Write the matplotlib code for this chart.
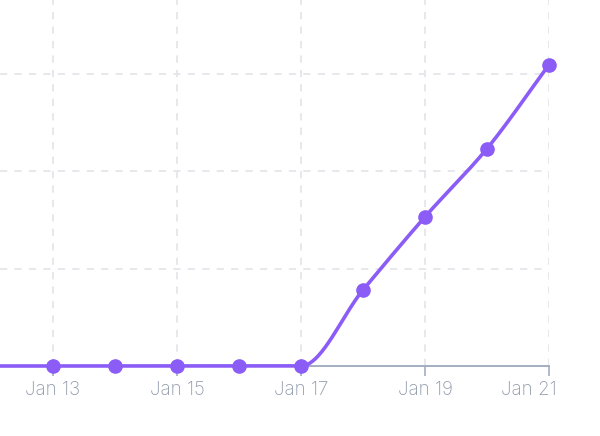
import numpy as np
import matplotlib.pyplot as plt
from matplotlib.transforms import ScaledTranslation

# Data (y axis has no labels; gridlines taken as 100 apart)
days = [12, 13, 14, 15, 16, 17, 18, 19, 20, 21]
values = [0, 0, 0, 0, 0, 0, 78, 153, 223, 309]
tick_days = [13, 15, 17, 19, 21]
tick_labels = ["Jan 13", "Jan 15", "Jan 17", "Jan 19", "Jan 21"]
y_grid = [100, 200, 300]

purple = "#8b5cf6"
axis_grey = "#a3aec2"
label_grey = "#929cad"
grid_grey = "#e4e6eb"


def monotone(x, y, n=40):
    # Fritsch-Carlson monotone cubic, just to draw a smooth line through the points
    x = np.asarray(x, float)
    y = np.asarray(y, float)
    h = np.diff(x)
    d = np.diff(y) / h
    m = np.zeros_like(y)
    m[0], m[-1] = d[0], d[-1]
    for i in range(1, len(y) - 1):
        if d[i - 1] * d[i] > 0:
            m[i] = 2 / (1 / d[i - 1] + 1 / d[i])
    xs, ys = [], []
    for i in range(len(h)):
        t = np.linspace(0, 1, n)
        h00 = 2 * t**3 - 3 * t**2 + 1
        h10 = t**3 - 2 * t**2 + t
        h01 = -2 * t**3 + 3 * t**2
        h11 = t**3 - t**2
        xs.append(x[i] + t * h[i])
        ys.append(h00 * y[i] + h10 * h[i] * m[i] + h01 * y[i + 1] + h11 * h[i] * m[i + 1])
    return np.concatenate(xs), np.concatenate(ys)


plt.rcParams["font.family"] = ["Inter", "DejaVu Sans"]

fig = plt.figure(figsize=(6, 4.36), dpi=100)
ax = fig.add_axes([0, 70 / 436, 549 / 600, 366 / 436])

sx, sy = monotone(days, values)
ax.plot(sx, sy, color=purple, lw=2.6, solid_capstyle="round", zorder=3, clip_on=False)
ax.plot(days, values, "o", color=purple, ms=9.5, zorder=4, clip_on=False)

ax.set_xlim(13 - 53 / 62, 21)
ax.set_ylim(0, 375.4)

ax.set_xticks(tick_days)
ax.set_xticklabels(tick_labels, fontweight="light")
ax.set_yticks(y_grid)
ax.tick_params(axis="y", left=False, labelleft=False)
ax.tick_params(axis="x", length=7, width=1.2, color=axis_grey, labelcolor=label_grey,
               labelsize=13.5, pad=4)

# last label is pulled inward so it stays inside the chart
last = ax.get_xticklabels()[-1]
last.set_transform(last.get_transform() + ScaledTranslation(-20 / 100, 0, fig.dpi_scale_trans))

ax.grid(True, color=grid_grey, lw=1.3, ls=(0, (4, 4)))
ax.set_axisbelow(True)

for s in ["top", "right", "left"]:
    ax.spines[s].set_visible(False)
ax.spines["bottom"].set_color(axis_grey)
ax.spines["bottom"].set_linewidth(1.4)

fig.savefig("out.png", dpi=100)
